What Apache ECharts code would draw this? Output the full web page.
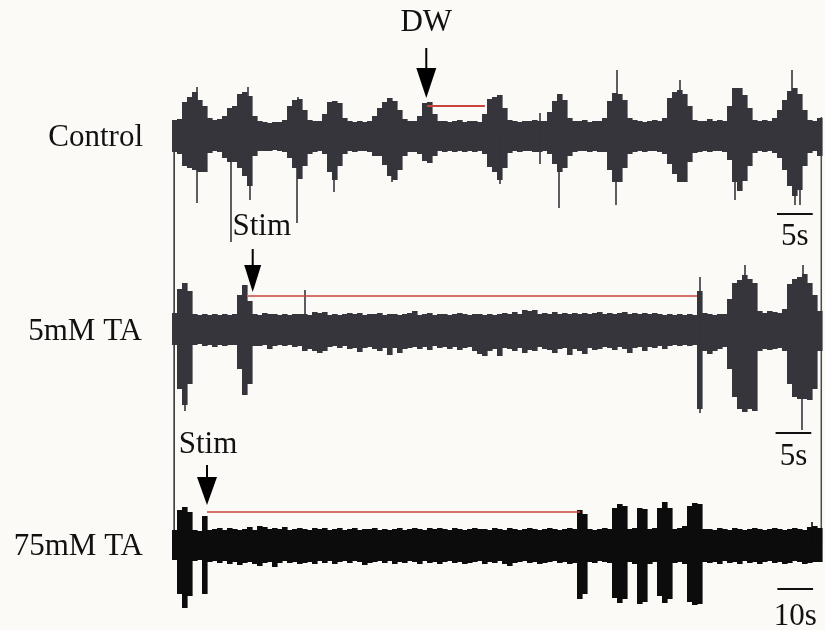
<!DOCTYPE html>
<html><head><meta charset="utf-8">
<script src="https://cdn.jsdelivr.net/npm/echarts@6.0.0/dist/echarts.min.js"></script>
<style>html,body{margin:0;padding:0;background:#fcfaf6}#c{width:825px;height:630px}</style>
</head><body><div id="c"></div><script>
// ---------- DATA (envelope per time bin; upper amplitude and lower amplitude magnitude) ----------
const binSecShort = 0.7;   // s per bin, Control & 5mM TA traces
const binSecLong = 1.4;    // s per bin, 75mM TA trace
const traceLabels = ['Control', '5mM TA', '75mM TA'];

const ctrlTop = [16,17,34,39,44,36,30,18,16,17, 20,28,30,42,44,40,20,15,14,13, 14,14,16,30,36,37,26,16,15,15,
  22,34,35,33,18,15,14,15,14,15, 20,28,34,38,35,26,17,15,15,20, 33,34,22,15,15,14,15,16,14,15,
  15,14,22,37,39,41,28,16,15,14, 15,15,16,15,15,24,35,42,36,18, 15,15,16,14,15,15,18,35,43,42,
  36,18,16,15,14,15,16,15,18,38, 44,46,42,30,16,15,15,17,15,16, 15,30,48,48,41,28,16,15,16,15,
  18,26,36,45,48,42,26,16,15,18];
const ctrlBot = [16,18,30,32,34,36,36,17,15,16, 22,26,26,32,40,50,20,15,15,15, 14,15,16,22,32,43,30,18,16,15,
  18,36,44,30,18,15,16,15,15,16, 20,20,29,40,44,34,20,16,16,18, 25,27,20,15,16,15,16,15,16,15,
  16,15,18,31,36,44,32,17,15,16, 15,15,16,16,15,18,28,36,32,20, 16,15,15,16,15,16,16,34,46,46,
  32,18,16,15,16,15,15,16,18,28, 38,46,46,26,17,16,15,16,15,15, 16,24,46,55,45,30,17,15,16,15,
  17,22,34,50,60,54,30,17,15,20];
const ctrlSpikeT = [3.5, 3.5, 8.26, 10.64, 10.92, 17.5, 17.64, 22.68, 30.8, 45.92, 51.52, 51.52, 54.18, 62.16, 62.3, 71.12, 78.82, 86.8, 87.22, 87.92];
const ctrlSpikeV = [49, -67, -106, 49, -64, -87, 39, -56, -46, -48, 23, -28, -72, -69, 66, 56, -64, 66, -69, -69];

const ta5Top = [16,40,46,38,15,14,15,14,15,14, 15,14,15,34,44,28,15,14,16,15, 15,14,15,14,15,15,15,14,17,16,
  17,14,15,14,15,16,15,16,14,15, 15,16,14,15,15,14,15,16,18,14, 15,16,14,15,15,14,15,16,15,14,
  15,15,14,15,14,15,16,15,17,15, 19,18,19,15,16,15,17,15,16,15, 16,15,16,15,16,17,15,16,15,16,
  17,15,16,15,16,15,16,15,14,15, 14,15,14,15,14,38,16,15,14,15, 15,30,46,49,54,50,46,18,16,18,
  17,16,20,45,50,52,55,46,34,18];
const ta5Bot = [16,60,76,55,16,15,17,16,18,16, 17,16,16,40,66,55,17,17,16,20, 17,16,17,16,18,17,22,20,22,24,
  22,18,17,19,17,20,19,23,19,18, 20,22,19,26,19,24,20,19,18,20, 18,21,17,19,18,20,18,21,19,18,
  22,25,27,22,20,27,19,20,22,19, 24,21,22,18,20,21,24,20,19,26, 20,22,25,19,21,20,18,19,21,18,
  20,24,19,18,22,18,19,17,20,17, 16,17,16,17,16,80,22,25,22,20, 18,40,68,80,83,80,82,22,20,21,
  20,19,22,55,68,70,70,71,60,22];
const ta5SpikeT = [1.82, 18.62, 73.92, 73.92, 80.22, 88.2, 88.34];
const ta5SpikeV = [-82, 39, 52, -84, 64, -101, 64];

const ta75Top = [14,34,37,32,14,13,28,14,15,16, 14,16,15,14,15,17,14,18,17,15, 16,15,17,14,15,16,15,14,16,15,
  16,14,15,16,14,15,16,14,15,15, 16,14,15,14,15,16,14,15,16,15, 14,16,15,16,15,14,16,15,14,15,
  16,15,15,14,16,15,14,16,15,14, 15,16,15,14,15,16,15,14,15,16, 15,34,30,15,14,15,16,15,36,40,
  38,15,16,36,35,15,16,36,42,36, 15,16,18,38,41,40,15,15,14,16, 15,14,16,15,14,15,16,15,14,15,
  16,15,14,15,16,15,14,17,18,16];
const ta75Bot = [16,50,64,52,17,16,50,18,17,19, 17,20,18,21,19,18,20,22,19,18, 23,19,17,19,18,20,19,18,20,17,
  19,17,20,18,17,19,17,18,21,19, 18,17,19,17,20,18,19,17,18,20, 17,19,18,20,18,17,19,18,20,19,
  18,17,20,18,19,17,20,22,19,18, 17,19,18,20,19,18,17,19,18,20, 19,55,50,18,19,17,18,19,54,59,
  55,18,20,60,58,20,18,52,59,55, 19,18,20,58,61,60,18,19,18,20, 17,19,18,20,17,19,18,20,18,17,
  19,18,20,19,17,18,20,19,18,18];
const ta75SpikeT = [179.2];
const ta75SpikeV = [22];

// annotations: [time, amplitude of arrow tip]; spans: [start, end, level]; scale bars: [start, length, level]
const dwArrow = [35.6, 38];
const dwSpan = [35.7, 43.8, 30];
const stim5Arrow = [11.3, 37];
const stim5Span = [10.64, 73.5, 33];
const stim75Arrow = [9.8, 39];
const stim75Span = [9.8, 114.3, 32];
const ctrlScale = [84.7, 5, -78];
const ta5Scale = [84.5, 5, -104];
const ta75Scale = [169.5, 10, -45];

// ---------- STYLE ----------
const GRAY = '#35353b', BLACK = '#0c0c0c', RED = '#c8443d';
const FONT = '"Liberation Serif","Times New Roman",serif';

function envSeries(k, top, bot, dt, color) {
  return {
    type: 'custom', xAxisIndex: k, yAxisIndex: k, clip: false, silent: true, z: 2,
    data: top.map((v, i) => [i * dt, v, -bot[i], dt]),
    renderItem: (p, api) => {
      const a = api.coord([api.value(0), api.value(1)]);
      const b = api.coord([api.value(0) + api.value(3), api.value(2)]);
      return { type: 'rect', shape: { x: a[0], y: a[1], width: b[0] - a[0] + 0.6, height: b[1] - a[1] }, style: { fill: color } };
    }
  };
}
function spikeSeries(k, ts, vs, color) {
  return {
    type: 'custom', xAxisIndex: k, yAxisIndex: k, clip: false, silent: true, z: 3,
    data: ts.map((t, i) => [t, vs[i]]),
    renderItem: (p, api) => {
      const a = api.coord([api.value(0), 0]);
      const b = api.coord([api.value(0), api.value(1)]);
      return { type: 'line', shape: { x1: a[0], y1: a[1], x2: b[0], y2: b[1] }, style: { stroke: color, lineWidth: 1.6 } };
    }
  };
}
function arrowSeries(k, pt, shaft, headH, hw) {
  return {
    type: 'custom', xAxisIndex: k, yAxisIndex: k, clip: false, silent: true, z: 5,
    data: [pt],
    renderItem: (p, api) => {
      const c = api.coord([api.value(0), api.value(1)]);
      const x = c[0], y = c[1];
      return { type: 'group', children: [
        { type: 'line', shape: { x1: x, y1: y - headH - shaft, x2: x, y2: y - headH + 1 }, style: { stroke: '#000', lineWidth: 2 } },
        { type: 'polygon', shape: { points: [[x - hw, y - headH], [x + hw, y - headH], [x, y]] }, style: { fill: '#000' } }
      ] };
    }
  };
}
function hLine(k, x0, x1, v, color, w, z) {
  return { type: 'line', xAxisIndex: k, yAxisIndex: k, data: [[x0, v], [x1, v]], symbol: 'none', silent: true, z: z,
    lineStyle: { color: color, width: w }, clip: false };
}
function txt(s, x, y, align) {
  return { type: 'text', z: 10, style: { text: s, x: x, y: y, font: '31px ' + FONT, fill: '#111',
    align: align, verticalAlign: 'middle', textAlign: align, textVerticalAlign: 'middle' } };
}

const chart = echarts.init(document.getElementById('c'), null, { renderer: 'canvas' });
const grids = [56, 249, 464].map(t => ({ left: 172, width: 650, top: t, height: 160 }));
chart.setOption({
  backgroundColor: '#fcfaf6',
  animation: false,
  grid: grids,
  xAxis: [0, 1, 2].map(k => ({ gridIndex: k, type: 'value', min: 0, max: k === 2 ? binSecLong * 130 : binSecShort * 130, show: false })),
  yAxis: [0, 1, 2].map(k => ({ gridIndex: k, type: 'value', min: -80, max: 80, show: false })),
  series: [
    envSeries(0, ctrlTop, ctrlBot, binSecShort, GRAY),
    spikeSeries(0, ctrlSpikeT, ctrlSpikeV, GRAY),
    envSeries(1, ta5Top, ta5Bot, binSecShort, GRAY),
    spikeSeries(1, ta5SpikeT, ta5SpikeV, GRAY),
    envSeries(2, ta75Top, ta75Bot, binSecLong, BLACK),
    spikeSeries(2, ta75SpikeT, ta75SpikeV, BLACK),
    hLine(0, dwSpan[0], dwSpan[1], dwSpan[2], RED, 2, 6),
    hLine(1, stim5Span[0], stim5Span[1], stim5Span[2], RED, 1.6, 6),
    hLine(2, stim75Span[0], stim75Span[1], stim75Span[2], RED, 1.4, 6),
    hLine(0, ctrlScale[0], ctrlScale[0] + ctrlScale[1], ctrlScale[2], '#111', 2, 6),
    hLine(1, ta5Scale[0], ta5Scale[0] + ta5Scale[1], ta5Scale[2], '#111', 2, 6),
    hLine(2, ta75Scale[0], ta75Scale[0] + ta75Scale[1], ta75Scale[2], '#111', 2, 6),
    arrowSeries(0, dwArrow, 20, 30, 10),
    arrowSeries(1, stim5Arrow, 16, 27, 8.5),
    arrowSeries(2, stim75Arrow, 12, 28, 10)
  ]
});

// frame lines and text labels
const pL = chart.convertToPixel({ gridIndex: 0 }, [0.3, 0]);
const pR = chart.convertToPixel({ gridIndex: 0 }, [binSecShort * 130 - 0.1, 0]);
const sc0 = chart.convertToPixel({ gridIndex: 0 }, [ctrlScale[0] + ctrlScale[1] / 2, ctrlScale[2]]);
const sc1 = chart.convertToPixel({ gridIndex: 1 }, [ta5Scale[0] + ta5Scale[1] / 2, ta5Scale[2]]);
const sc2 = chart.convertToPixel({ gridIndex: 2 }, [ta75Scale[0] + ta75Scale[1] / 2, ta75Scale[2]]);
const aDW = chart.convertToPixel({ gridIndex: 0 }, dwArrow);
const aS5 = chart.convertToPixel({ gridIndex: 1 }, stim5Arrow);
const aS75 = chart.convertToPixel({ gridIndex: 2 }, stim75Arrow);
chart.setOption({
  graphic: [
    { type: 'line', z: 1, shape: { x1: pL[0], y1: 130, x2: pL[0], y2: 540 }, style: { stroke: '#2a2a2e', lineWidth: 1.5 } },
    { type: 'line', z: 1, shape: { x1: pR[0], y1: 117, x2: pR[0], y2: 545 }, style: { stroke: '#4a4a50', lineWidth: 1.5 } },
    txt(traceLabels[0], 143, 138, 'right'),
    txt(traceLabels[1], 142, 332, 'right'),
    txt(traceLabels[2], 143, 547, 'right'),
    txt('DW', aDW[0], aDW[1] - 75, 'center'),
    txt('Stim', aS5[0] + 9, aS5[1] - 65, 'center'),
    txt('Stim', aS75[0] + 1, aS75[1] - 60, 'center'),
    txt('5s', sc0[0], sc0[1] + 23, 'center'),
    txt('5s', sc1[0], sc1[1] + 24, 'center'),
    txt('10s', sc2[0], sc2[1] + 28, 'center')
  ]
});
</script></body></html>
